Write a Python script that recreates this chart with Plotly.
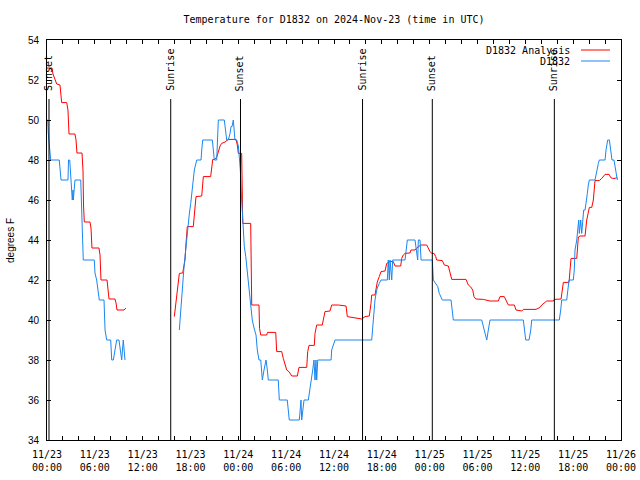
import plotly.graph_objects as go
import pandas as pd

start = pd.Timestamp("2024-11-23 00:00")
end = pd.Timestamp("2024-11-26 00:00")
title_text = "Temperature for D1832 on 2024-Nov-23 (time in UTC)"
y_title = "degrees F"
analysis_name = "D1832 Analysis"
obs_name = "D1832"

# hours since 2024-11-23 00:00 UTC (None = data gap)
analysis_hours = [0.00, 0.63, 0.75, 1.00, 1.22, 1.63, 1.72, 1.84, 2.47, 2.63, 2.76, 3.51, 3.64, 3.76, 4.39, 4.52,
                  4.58, 4.68, 5.39, 5.52, 5.64, 6.52, 6.65, 6.71, 6.77, 7.53, 7.65, 7.78, 8.53, 8.66, 8.78, 9.66, 9.91,
                  None,
                  15.97, 16.14, 16.27, 16.47, 16.60, 17.02, 17.31, 17.44, 17.60, 18.35, 18.44, 18.57, 18.69, 19.41,
                  19.48, 19.61, 20.53, 20.66, 20.79, 21.07, 21.29, 21.49, 21.70, 21.91, 22.33, 22.74, 23.46, 23.71,
                  23.87, 24.00, 24.42, 24.55, 25.55, 25.68, 26.59, 26.66, 26.81, 27.56, 27.66, 28.69, 28.81, 29.44,
                  29.64, 29.85, 30.07, 30.39, 30.70, 31.40, 31.61, 32.58, 32.70, 32.87, 33.53, 33.62, 33.83, 34.53,
                  34.66, 34.87, 35.50, 35.71, 36.54, 37.51, 37.67, 38.51, 39.48, 39.89, 40.43, 40.64, 40.73, 41.14,
                  41.27, 41.43, 41.68, 41.90, 42.40, 42.61, 43.03, 43.44, 43.65, 44.37, 44.49, 44.69, 44.91, 45.53,
                  45.66, 46.16, 46.38, 46.58, 46.88, 47.63, 47.83, 48.04, 48.26, 48.55, 48.76, 48.88, 49.59, 49.84,
                  50.34, 50.55, 50.77, 52.56, 52.85, 53.15, 53.40, 53.56, 53.78, 54.73, 55.57, 56.61, 56.82, 57.36,
                  57.67, 57.87, 58.62, 58.83, 59.55, 59.75, 61.34, 61.84, 62.06, 62.68, 63.51, 63.64, 64.48, 64.64,
                  64.77, 65.48, 65.61, 65.73, 66.45, 66.65, 66.86, 67.49, 67.70, 68.03, 68.33, 68.53, 68.74, 69.28,
                  69.58, 69.78, 70.00, 70.50, 70.71, 70.96, 71.25, 71.46, 71.59]
analysis_temps = [52.6, 52.6, 52.3, 52.0, 51.8, 51.75, 51.1, 50.87, 50.87, 50.5, 49.3, 49.3, 49.0, 48.35, 48.35, 47.45,
                  45.75, 44.9, 44.9, 44.6, 43.6, 43.6, 43.25, 42.4, 42.0, 42.0, 41.3, 41.05, 41.05, 40.85, 40.5, 40.5, 40.6,
                  None,
                  40.17, 40.83, 41.2, 41.83, 42.33, 42.35, 43.0, 43.83, 44.67, 44.67, 45.17, 45.7, 46.17, 46.2,
                  46.7, 47.17, 47.17, 47.6, 48.03, 48.03, 48.15, 48.4, 48.7, 48.83, 48.9, 49.03, 49.05, 49.03,
                  48.75, 48.33, 48.33, 44.83, 44.83, 40.75, 40.75, 39.58, 39.25, 39.25, 39.38, 39.38, 38.42, 38.42,
                  38.08, 37.75, 37.5, 37.4, 37.2, 37.2, 37.63, 37.63, 38.42, 38.73, 38.73, 39.33, 39.75, 39.75,
                  40.1, 40.42, 40.45, 40.75, 40.75, 40.7, 40.17, 40.12, 40.05, 40.17, 40.2, 40.83, 41.25, 41.25,
                  41.6, 41.9, 42.17, 42.42, 42.45, 42.83, 42.92, 42.92, 42.7, 42.7, 43.08, 43.25, 43.33, 43.35,
                  43.5, 43.5, 43.6, 43.67, 43.75, 43.75, 43.58, 43.42, 43.33, 43.33, 43.17, 43.0, 42.97, 42.75,
                  42.7, 42.33, 42.03, 42.03, 41.75, 41.65, 41.5, 41.17, 41.05, 41.03, 40.95, 40.95, 41.17, 41.17,
                  40.92, 40.75, 40.75, 40.5, 40.45, 40.53, 40.53, 40.63, 40.75, 40.95, 40.95, 41.03, 41.05, 41.5,
                  41.88, 41.88, 42.5, 43.08, 43.08, 44.15, 44.2, 44.2, 45.0, 45.63, 45.63, 46.0, 46.97, 46.97,
                  47.08, 47.17, 47.28, 47.28, 47.12, 47.08, 47.08, 47.12, 47.08]

obs_hours = [0.00, 0.09, 0.16, 0.25, 0.31, 0.38, 0.46, 1.54, 1.67, 1.76, 2.63, 2.70, 2.85, 2.97, 3.17, 3.26, 3.30,
             3.51, 4.23, 4.35, 4.43, 4.55, 5.93, 6.02, 6.23, 6.44, 6.56, 7.15, 7.28, 7.49, 7.99, 8.12, 8.32, 8.53,
             8.74, 9.03, 9.16, 9.37, 9.57, 9.78,
             None,
             16.60, 16.77, 16.90, 17.02, 17.19, 17.31, 17.44, 17.52, 17.72, 17.85, 18.03, 18.15, 18.35, 18.48,
             18.78, 19.32, 19.41, 19.53, 20.74, 20.86, 20.99, 21.29, 21.36, 21.49, 22.24, 22.42, 22.54, 22.74,
             22.96, 23.08, 23.21, 23.37, 23.46, 23.58, 23.80, 24.00, 24.08, 24.25, 24.42, 24.62, 24.75, 24.93,
             25.05, 25.25, 25.38, 25.55, 25.75, 25.97, 26.22, 26.38, 26.59, 26.81, 26.93, 27.01, 27.22, 27.35,
             27.47, 27.64, 27.76, 29.01, 29.14, 30.14, 30.27, 30.39, 31.65, 31.74, 31.86, 31.95, 32.08, 32.24,
             32.78, 32.99, 33.12, 33.20, 33.33, 33.49, 33.62, 33.74, 33.83, 33.96, 35.63, 35.71, 35.91, 36.13,
             40.73, 40.86, 41.02, 41.14, 41.31, 41.43, 41.68, 41.90, 42.69, 42.81, 42.94, 43.03, 43.24, 43.36,
             44.91, 45.03, 45.20, 46.16, 46.38, 46.50, 46.58, 46.79, 46.92, 48.33, 48.46, 48.80, 49.01, 49.21,
             49.39, 49.59, 50.68, 50.84, 50.97, 54.53, 54.73, 54.94, 55.16, 55.36, 55.57, 59.75, 59.87, 60.05,
             60.46, 60.68, 60.80, 64.26, 64.44, 64.56, 65.19, 65.32, 65.48, 66.02, 66.14, 66.23, 66.45, 66.57,
             66.70, 66.77, 66.95, 67.07, 67.20, 67.32, 67.49, 67.61, 67.78, 67.90, 68.03, 68.74, 68.96, 69.16,
             69.28, 70.00, 70.12, 70.33, 70.54, 70.75, 70.87, 71.12, 71.25, 71.38, 71.54]
obs_temps = [50.0, 50.0, 49.35, 49.0, 48.7, 48.3, 48.0, 48.0, 47.4, 47.0, 47.0, 48.0, 48.0, 47.0, 46.0, 46.5, 46.0,
             47.0, 47.0, 45.5, 44.6, 43.0, 43.0, 42.35, 42.0, 41.5, 41.0, 41.0, 39.5, 39.0, 39.0, 38.0, 38.0, 38.5,
             39.0, 39.0, 38.5, 38.0, 39.0, 38.0,
             None,
             39.5, 40.5, 41.33, 42.0, 42.67, 43.17, 43.67, 44.33, 45.0, 45.3, 45.83, 46.33, 47.0, 47.5,
             48.0, 48.0, 48.5, 49.0, 49.0, 48.35, 48.0, 48.0, 49.0, 50.0, 50.0, 49.33, 49.0, 49.0,
             49.33, 49.67, 49.67, 50.0, 49.5, 49.0, 49.0, 48.7, 48.35, 47.5, 46.0, 44.5, 43.67, 43.17,
             42.67, 42.0, 41.5, 40.83, 40.0, 39.6, 39.25, 38.5, 38.0, 38.0, 37.5, 37.0, 37.5, 37.83,
             38.0, 37.5, 37.0, 37.0, 36.0, 36.0, 35.5, 35.0, 35.0, 35.5, 36.0, 35.0, 35.5, 36.0,
             36.0, 36.5, 36.83, 37.17, 37.5, 38.0, 37.0, 38.0, 37.0, 38.0, 38.0, 38.5, 38.75, 39.0,
             39.0, 39.7, 40.6, 41.0, 41.4, 41.6, 41.83, 42.0, 42.0, 43.0, 42.0, 43.0, 42.0, 43.0,
             43.0, 43.5, 44.0, 44.0, 43.3, 43.0, 44.0, 44.0, 43.0, 43.0, 42.0, 41.83, 41.67, 41.33,
             41.17, 41.0, 41.0, 40.33, 40.0, 40.0, 39.67, 39.33, 39.0, 39.5, 40.0, 40.0, 39.5, 39.0,
             39.0, 39.5, 40.0, 40.0, 40.5, 41.0, 41.0, 41.5, 42.0, 42.0, 42.5, 43.5, 44.0, 44.5,
             45.0, 44.33, 45.0, 44.33, 45.0, 45.5, 45.5, 46.0, 46.33, 46.75, 47.0, 47.0, 47.5, 47.83,
             48.0, 48.0, 48.5, 49.0, 49.0, 48.3, 48.0, 48.0, 47.67, 47.33, 47.0]

sun_hours = [0.25, 15.52, 24.27, 39.58, 48.33, 63.64]
sun_labels = ["Sunset", "Sunrise", "Sunset", "Sunrise", "Sunset", "Sunrise"]

y_tick_values = [34, 36, 38, 40, 42, 44, 46, 48, 50, 52, 54]
x_tick_labels = ["11/23<br>00:00", "11/23<br>06:00", "11/23<br>12:00", "11/23<br>18:00",
                 "11/24<br>00:00", "11/24<br>06:00", "11/24<br>12:00", "11/24<br>18:00",
                 "11/25<br>00:00", "11/25<br>06:00", "11/25<br>12:00", "11/25<br>18:00",
                 "11/26<br>00:00"]

RED = "#ff0000"
BLUE = "#1a86f0"
MONO = "DejaVu Sans Mono"
SANS = "Liberation Sans"


def to_times(hours):
    return [None if h is None else start + pd.Timedelta(hours=h) for h in hours]


fig = go.Figure()
fig.add_trace(go.Scatter(x=to_times(analysis_hours), y=analysis_temps, mode="lines",
                         line=dict(color=RED, width=1), name=analysis_name, connectgaps=False))
fig.add_trace(go.Scatter(x=to_times(obs_hours), y=obs_temps, mode="lines",
                         line=dict(color=BLUE, width=1), name=obs_name, connectgaps=False))

major_ticks = list(pd.date_range(start, end, freq="6h"))
minor_ticks = list(pd.date_range(start, end, freq="2h"))

# sunrise / sunset markers
for h, lab in zip(sun_hours, sun_labels):
    t = start + pd.Timedelta(hours=h)
    fig.add_shape(type="line", xref="x", yref="paper", x0=t, x1=t, y0=0, y1=0.8525,
                  line=dict(color="black", width=1), layer="above")
    fig.add_annotation(x=t, xref="x", y=0.8675, yref="paper", text=lab, textangle=-90,
                       showarrow=False, xanchor="center", yanchor="bottom",
                       font=dict(family=MONO, size=10, color="black"))

# legend (gnuplot style: text then sample line)
for i, (name, col) in enumerate([(analysis_name, RED), (obs_name, BLUE)]):
    yy = 0.975 - i * 0.0275
    fig.add_annotation(x=0.9146, xref="paper", y=yy, yref="paper", text=name, showarrow=False,
                       xanchor="right", yanchor="middle", font=dict(family=MONO, size=10, color="black"))
    fig.add_shape(type="line", xref="paper", yref="paper", x0=0.9303, x1=0.9808, y0=yy, y1=yy,
                  line=dict(color=col, width=1))

fig.add_annotation(x=-0.0645, xref="paper", y=0.5, yref="paper", text=y_title, textangle=-90,
                   showarrow=False, xanchor="center", yanchor="middle",
                   font=dict(family=SANS, size=10, color="black"))

fig.update_layout(
    width=640, height=480,
    margin=dict(l=47, r=19, t=40, b=40),
    paper_bgcolor="white", plot_bgcolor="white",
    showlegend=False,
    title=dict(text=title_text, x=0.5, xref="paper", xanchor="center", y=1 - 19 / 480, yanchor="middle",
               font=dict(family=MONO, size=10, color="black")),
    xaxis=dict(range=[start, end], tickmode="array", tickvals=major_ticks, ticktext=x_tick_labels,
               ticks="inside", ticklen=4, tickcolor="black", showline=True, linecolor="black", linewidth=1,
               mirror="ticks", showgrid=False, zeroline=False, ticklabelstandoff=5, automargin=False,
               tickfont=dict(family=MONO, size=10, color="black"),
               minor=dict(tickmode="array", tickvals=minor_ticks, ticks="inside", ticklen=4,
                          tickcolor="black", showgrid=False)),
    yaxis=dict(range=[34, 54], tickmode="array", tickvals=y_tick_values,
               ticks="inside", ticklen=4, tickcolor="black", showline=True, linecolor="black", linewidth=1,
               mirror="ticks", showgrid=False, zeroline=False, ticklabelstandoff=5, automargin=False,
               tickfont=dict(family=SANS, size=10, color="black")),
)

fig.write_html("out.html", config={"displayModeBar": False},
               post_script="document.body.style.margin='0px';")
